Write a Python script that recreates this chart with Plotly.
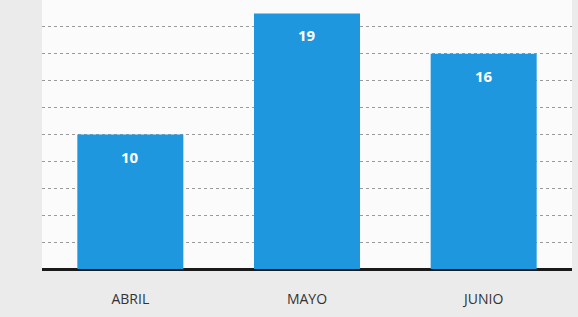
import plotly.graph_objects as go

categories = ["ABRIL", "MAYO", "JUNIO"]
values = [10, 19, 16]
grid_vals = [2, 4, 6, 8, 10, 12, 14, 16, 18]

bar_color = "#1f97de"

fig = go.Figure()
fig.add_trace(go.Bar(
    x=categories, y=values,
    marker=dict(color=bar_color, line=dict(width=0)),
    width=0.6,
    hoverinfo="skip",
))

for c, v in zip(categories, values):
    fig.add_annotation(
        x=c, y=v, text=f"<b>{v}</b>", showarrow=False,
        yshift=-22, font=dict(color="white", size=15, family="Open Sans"),
    )

fig.update_layout(
    width=578, height=317,
    margin=dict(l=42, r=6, t=0, b=48),
    paper_bgcolor="#ebebeb",
    plot_bgcolor="#fbfbfb",
    showlegend=False,
    bargap=0.4,
    xaxis=dict(
        showgrid=False, zeroline=False,
        showline=False, ticks="",
        tickfont=dict(family="Open Sans", size=14, color="#333333"),
        ticklabelstandoff=20,
    ),
    yaxis=dict(
        range=[0, 20], tickvals=grid_vals, showticklabels=False,
        showgrid=True, gridcolor="#9a9a9a", gridwidth=1, griddash="dot",
        zeroline=True, zerolinecolor="#1a1a1a", zerolinewidth=3,
        showline=False,
    ),
)

fig.write_html("out.html", config={"displayModeBar": False},
               post_script="document.body.style.margin='0';")
